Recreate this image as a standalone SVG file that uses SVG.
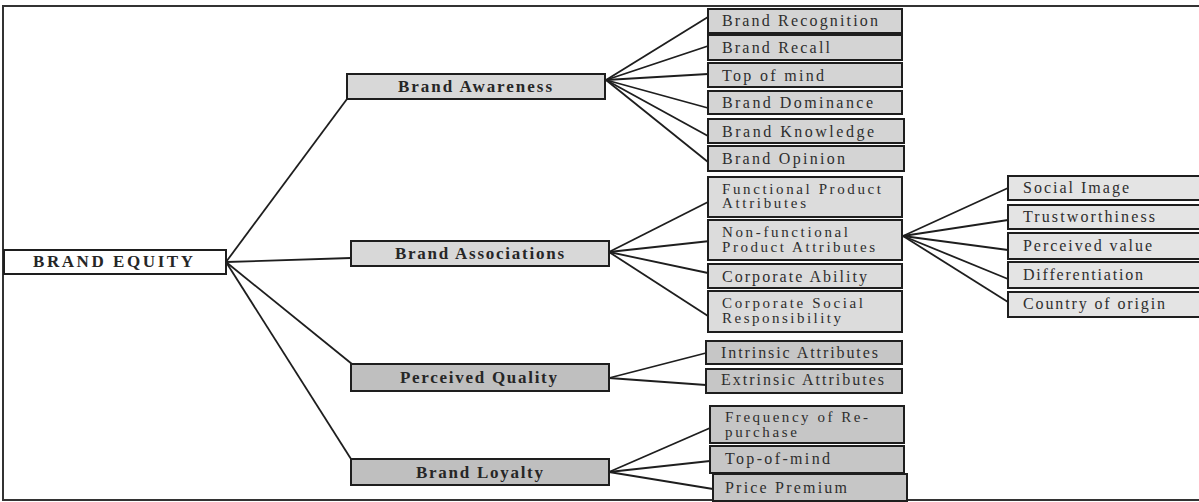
<svg xmlns="http://www.w3.org/2000/svg" width="1199" height="502" viewBox="0 0 1199 502">
<style>
.box{stroke:#1e1e1e;stroke-width:2}
.w{fill:#ffffff}
.g1{fill:#d8d8d8}
.g2{fill:#bfbfbf}
.ga{fill:#d4d4d4}
.gb{fill:#dcdcdc}
.gc{fill:#c6c6c6}
.gd{fill:#e4e4e4}
.t1{font-family:"Liberation Serif","Times New Roman",serif;font-size:17px;font-weight:bold;fill:#262626}
.t2{font-family:"Liberation Serif","Times New Roman",serif;font-size:16px;fill:#2e2e2e}
.t3{font-family:"Liberation Serif","Times New Roman",serif;font-size:15px;fill:#2e2e2e}
#connectors line{stroke:#1e1e1e;stroke-width:1.8;fill:none}
</style>
<rect x="0" y="0" width="1199" height="502" fill="#ffffff"/>
<path d="M1199 6 H3 V500 H1199" fill="none" stroke="#333333" stroke-width="2"/>

<g id="connectors">
<line x1="226" y1="262" x2="347" y2="99"/>
<line x1="226" y1="262" x2="351" y2="258"/>
<line x1="226" y1="262" x2="352" y2="364"/>
<line x1="226" y1="262" x2="351" y2="459"/>

<line x1="606" y1="80" x2="708" y2="17"/>
<line x1="606" y1="80" x2="708" y2="46"/>
<line x1="606" y1="80" x2="708" y2="74"/>
<line x1="606" y1="80" x2="708" y2="108"/>
<line x1="606" y1="80" x2="708" y2="136"/>
<line x1="606" y1="80" x2="708" y2="162"/>

<line x1="609" y1="252" x2="708" y2="202"/>
<line x1="609" y1="252" x2="710" y2="241"/>
<line x1="609" y1="252" x2="708" y2="273"/>
<line x1="609" y1="252" x2="708" y2="316"/>

<line x1="609" y1="378" x2="706" y2="353"/>
<line x1="609" y1="378" x2="706" y2="385"/>

<line x1="609" y1="472" x2="710" y2="428"/>
<line x1="609" y1="472" x2="710" y2="461"/>
<line x1="609" y1="472" x2="713" y2="489"/>

<line x1="903" y1="236" x2="1008" y2="188"/>
<line x1="903" y1="236" x2="1008" y2="220"/>
<line x1="903" y1="236" x2="1008" y2="250"/>
<line x1="903" y1="236" x2="1008" y2="279"/>
<line x1="903" y1="236" x2="1008" y2="302"/>
</g>

<g id="brand-equity">
<rect class="box w" x="4" y="250" width="222" height="24"/>
<text class="t1" x="33" y="267" textLength="160" lengthAdjust="spacing">BRAND EQUITY</text>
</g>

<g id="brand-awareness">
<rect class="box g1" x="347" y="74" width="258" height="25"/>
<text class="t1" x="398" y="92" textLength="154" lengthAdjust="spacing">Brand Awareness</text>
</g>
<g id="brand-associations">
<rect class="box g1" x="351" y="241" width="258" height="25"/>
<text class="t1" x="395" y="259" textLength="169" lengthAdjust="spacing">Brand Associations</text>
</g>
<g id="perceived-quality">
<rect class="box g2" x="351" y="364" width="258" height="27"/>
<text class="t1" x="400" y="383" textLength="157" lengthAdjust="spacing">Perceived Quality</text>
</g>
<g id="brand-loyalty">
<rect class="box g2" x="351" y="459" width="258" height="26"/>
<text class="t1" x="416" y="478" textLength="127" lengthAdjust="spacing">Brand Loyalty</text>
</g>

<g id="brand-recognition">
<rect class="box ga" x="708" y="9" width="194" height="24"/>
<text class="t2" x="722" y="26" textLength="156" lengthAdjust="spacing">Brand Recognition</text>
</g>
<g id="brand-recall">
<rect class="box ga" x="708" y="35" width="194" height="25"/>
<text class="t2" x="722" y="53" textLength="108" lengthAdjust="spacing">Brand Recall</text>
</g>
<g id="top-of-mind">
<rect class="box ga" x="708" y="63" width="194" height="24"/>
<text class="t2" x="722" y="81" textLength="102" lengthAdjust="spacing">Top of mind</text>
</g>
<g id="brand-dominance">
<rect class="box ga" x="708" y="91" width="194" height="23"/>
<text class="t2" x="722" y="108" textLength="151" lengthAdjust="spacing">Brand Dominance</text>
</g>
<g id="brand-knowledge">
<rect class="box ga" x="708" y="119" width="196" height="24"/>
<text class="t2" x="722" y="137" textLength="152" lengthAdjust="spacing">Brand Knowledge</text>
</g>
<g id="brand-opinion">
<rect class="box ga" x="708" y="146" width="196" height="25"/>
<text class="t2" x="722" y="164" textLength="123" lengthAdjust="spacing">Brand Opinion</text>
</g>

<g id="functional-product-attributes">
<rect class="box gb" x="708" y="177" width="194" height="40"/>
<text class="t3" x="722" y="194" textLength="159" lengthAdjust="spacing">Functional Product</text>
<text class="t3" x="722" y="208" textLength="84" lengthAdjust="spacing">Attributes</text>
</g>
<g id="non-functional-product-attributes">
<rect class="box gb" x="708" y="220" width="194" height="40"/>
<text class="t3" x="722" y="237" textLength="126" lengthAdjust="spacing">Non-functional</text>
<text class="t3" x="722" y="252" textLength="153" lengthAdjust="spacing">Product Attributes</text>
</g>
<g id="corporate-ability">
<rect class="box gb" x="708" y="264" width="194" height="24"/>
<text class="t2" x="722" y="282" textLength="145" lengthAdjust="spacing">Corporate Ability</text>
</g>
<g id="corporate-social-responsibility">
<rect class="box gb" x="708" y="291" width="194" height="41"/>
<text class="t3" x="722" y="308" textLength="141" lengthAdjust="spacing">Corporate Social</text>
<text class="t3" x="722" y="323" textLength="119" lengthAdjust="spacing">Responsibility</text>
</g>

<g id="intrinsic-attributes">
<rect class="box gc" x="706" y="341" width="196" height="23"/>
<text class="t2" x="721" y="358" textLength="157" lengthAdjust="spacing">Intrinsic Attributes</text>
</g>
<g id="extrinsic-attributes">
<rect class="box gc" x="706" y="369" width="196" height="24"/>
<text class="t2" x="721" y="385" textLength="163" lengthAdjust="spacing">Extrinsic Attributes</text>
</g>

<g id="frequency-of-repurchase">
<rect class="box gc" x="710" y="406" width="194" height="37"/>
<text class="t3" x="725" y="422" textLength="143" lengthAdjust="spacing">Frequency of Re-</text>
<text class="t3" x="725" y="437" textLength="72" lengthAdjust="spacing">purchase</text>
</g>
<g id="top-of-mind-2">
<rect class="box gc" x="710" y="446" width="194" height="27"/>
<text class="t2" x="725" y="464" textLength="105" lengthAdjust="spacing">Top-of-mind</text>
</g>
<g id="price-premium">
<rect class="box gc" x="713" y="474" width="194" height="27"/>
<text class="t2" x="725" y="493" textLength="122" lengthAdjust="spacing">Price Premium</text>
</g>

<g id="social-image">
<rect class="box gd" x="1008" y="176" width="200" height="24"/>
<text class="t2" x="1023" y="193" textLength="106" lengthAdjust="spacing">Social Image</text>
</g>
<g id="trustworthiness">
<rect class="box gd" x="1008" y="205" width="200" height="24"/>
<text class="t2" x="1023" y="222" textLength="132" lengthAdjust="spacing">Trustworthiness</text>
</g>
<g id="perceived-value">
<rect class="box gd" x="1008" y="233" width="200" height="26"/>
<text class="t2" x="1023" y="251" textLength="129" lengthAdjust="spacing">Perceived value</text>
</g>
<g id="differentiation">
<rect class="box gd" x="1008" y="262" width="200" height="26"/>
<text class="t2" x="1023" y="280" textLength="120" lengthAdjust="spacing">Differentiation</text>
</g>
<g id="country-of-origin">
<rect class="box gd" x="1008" y="292" width="200" height="25"/>
<text class="t2" x="1023" y="309" textLength="142" lengthAdjust="spacing">Country of origin</text>
</g>
</svg>
